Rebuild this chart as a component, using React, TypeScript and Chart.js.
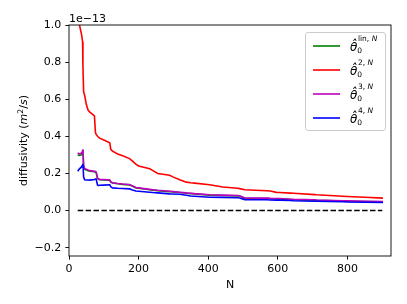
import React, { useEffect, useRef } from "react";
import { Chart, registerables } from "chart.js";

Chart.register(...registerables);

// Sample sizes N (shared by all series)
const N_VALUES = [25, 30, 36, 39, 40, 42, 45, 50, 55, 60, 73, 76, 78, 82, 85, 88, 100, 117, 120, 125, 140, 154, 174, 180, 192, 200, 232, 241, 255, 289, 300, 318, 337, 350, 361, 404, 442, 485, 490, 505, 568, 578, 596, 606, 636, 645, 706, 711, 787, 800, 850, 902];

// values in units of 1e-13 m^2/s
const LIN_VALUES = [0.300, 0.297, 0.300, 0.310, 0.325, 0.232, 0.222, 0.219, 0.215, 0.212, 0.209, 0.207, 0.205, 0.173, 0.168, 0.166, 0.165, 0.163, 0.153, 0.148, 0.144, 0.141, 0.138, 0.133, 0.122, 0.120, 0.112, 0.110, 0.107, 0.102, 0.100, 0.097, 0.093, 0.091, 0.089, 0.083, 0.081, 0.079, 0.078, 0.066, 0.065, 0.064, 0.063, 0.063, 0.059, 0.058, 0.056, 0.055, 0.051, 0.050, 0.048, 0.047];
const Q2_VALUES = [1.150, 1.000, 0.950, 0.910, 0.780, 0.640, 0.620, 0.570, 0.540, 0.530, 0.510, 0.420, 0.410, 0.400, 0.395, 0.390, 0.380, 0.365, 0.330, 0.320, 0.305, 0.295, 0.280, 0.270, 0.250, 0.240, 0.225, 0.215, 0.200, 0.190, 0.180, 0.166, 0.153, 0.150, 0.148, 0.139, 0.127, 0.120, 0.118, 0.112, 0.107, 0.105, 0.098, 0.097, 0.094, 0.093, 0.086, 0.085, 0.077, 0.076, 0.072, 0.067];
const Q3_VALUES = [0.310, 0.305, 0.310, 0.320, 0.330, 0.240, 0.227, 0.222, 0.218, 0.215, 0.212, 0.210, 0.208, 0.175, 0.170, 0.168, 0.167, 0.165, 0.155, 0.150, 0.146, 0.143, 0.140, 0.135, 0.124, 0.122, 0.114, 0.112, 0.109, 0.104, 0.102, 0.099, 0.095, 0.093, 0.091, 0.085, 0.083, 0.081, 0.080, 0.068, 0.067, 0.066, 0.065, 0.065, 0.061, 0.060, 0.058, 0.057, 0.053, 0.052, 0.050, 0.049];
const Q4_VALUES = [0.212, 0.225, 0.235, 0.245, 0.252, 0.180, 0.166, 0.165, 0.165, 0.164, 0.167, 0.170, 0.170, 0.137, 0.135, 0.136, 0.137, 0.139, 0.128, 0.122, 0.120, 0.119, 0.117, 0.112, 0.105, 0.104, 0.099, 0.097, 0.095, 0.090, 0.089, 0.088, 0.082, 0.078, 0.077, 0.072, 0.071, 0.069, 0.068, 0.059, 0.058, 0.057, 0.056, 0.056, 0.054, 0.053, 0.050, 0.050, 0.047, 0.046, 0.045, 0.043];
const ZERO_N = [25, 900];
const ZERO_VALUES = [0, 0];

const X_TICKS = [0, 200, 400, 600, 800];
const Y_TICKS = [-0.2, 0.0, 0.2, 0.4, 0.6, 0.8, 1.0];

const LEGEND_SUPS = ["lin", "2", "3", "4"];
const COLORS = ["#008000", "#ff0000", "#bf00bf", "#0000ff"];

const FONT = "'DejaVu Sans', sans-serif";
const FS = 11;

function pts(xs: number[], ys: number[]) {
  return xs.map((x, i) => ({ x, y: ys[i] }));
}

function drawTheta(ctx: CanvasRenderingContext2D, x: number, y: number, sup: string) {
  ctx.fillStyle = "#000";
  ctx.textAlign = "left";
  ctx.textBaseline = "alphabetic";
  const base = y + 5;
  ctx.font = `italic 12px ${FONT}`;
  const th = "\u03b8\u0302";
  ctx.fillText(th, x, base);
  const w = ctx.measureText("\u03b8").width;
  ctx.font = `7.5px ${FONT}`;
  ctx.fillText("0", x + w - 0.2, base + 1.5);
  let sx = x + w + 0.6;
  const sy = base - 10;
  const s1 = sup + ", ";
  ctx.fillText(s1, sx, sy);
  sx += ctx.measureText(s1).width;
  ctx.font = `italic 7.5px ${FONT}`;
  ctx.fillText("N", sx, sy);
}

const decorPlugin = {
  id: "decor",
  afterDraw(chart: any) {
    const ctx: CanvasRenderingContext2D = chart.ctx;
    const a = chart.chartArea;
    ctx.save();
    // frame
    ctx.strokeStyle = "#000";
    ctx.lineWidth = 0.9;
    ctx.strokeRect(a.left, a.top, a.right - a.left, a.bottom - a.top);

    // offset text
    ctx.fillStyle = "#000";
    ctx.font = `${FS}px ${FONT}`;
    ctx.textAlign = "left";
    ctx.textBaseline = "alphabetic";
    ctx.fillText("1e\u221213", a.left, a.top - 3);

    // x title
    ctx.textAlign = "center";
    ctx.textBaseline = "alphabetic";
    ctx.fillText("N", (a.left + a.right) / 2, 288);

    // y title
    ctx.save();
    ctx.translate(27, (a.top + a.bottom) / 2);
    ctx.rotate(-Math.PI / 2);
    const parts: [string, string, number][] = [
      ["diffusivity (", `${FS}px ${FONT}`, 0],
      ["m", `italic ${FS}px ${FONT}`, 0],
      ["2", `${FS * 0.7}px ${FONT}`, -4.5],
      ["/", `${FS}px ${FONT}`, 0],
      ["s", `italic ${FS}px ${FONT}`, 0],
      [")", `${FS}px ${FONT}`, 0],
    ];
    let total = 0;
    for (const [t, f] of parts) {
      ctx.font = f;
      total += ctx.measureText(t).width;
    }
    let px = -total / 2;
    ctx.textAlign = "left";
    for (const [t, f, dy] of parts) {
      ctx.font = f;
      ctx.fillText(t, px, dy);
      px += ctx.measureText(t).width;
    }
    ctx.restore();

    // legend
    const lx = 305, ly = 32, lw = 80, lh = 98;
    ctx.beginPath();
    if ((ctx as any).roundRect) (ctx as any).roundRect(lx + 0.5, ly + 0.5, lw, lh, 2.5);
    else ctx.rect(lx + 0.5, ly + 0.5, lw, lh);
    ctx.fillStyle = "rgba(255,255,255,0.8)";
    ctx.fill();
    ctx.strokeStyle = "#cccccc";
    ctx.lineWidth = 1;
    ctx.stroke();
    for (let i = 0; i < LEGEND_SUPS.length; i++) {
      const yy = 46 + i * 24;
      ctx.strokeStyle = COLORS[i];
      ctx.lineWidth = 1.6;
      ctx.beginPath();
      ctx.moveTo(313, yy);
      ctx.lineTo(340, yy);
      ctx.stroke();
      drawTheta(ctx, 350, yy, LEGEND_SUPS[i]);
    }
    ctx.restore();
  },
};

export default function App() {
  const ref = useRef<HTMLCanvasElement | null>(null);
  useEffect(() => {
    if (!ref.current) return;
    const lineDs = (label: string, ys: number[], color: string, order: number) => ({
      label,
      data: pts(N_VALUES, ys),
      borderColor: color,
      backgroundColor: color,
      borderWidth: 1.6,
      pointRadius: 0,
      tension: 0,
      fill: false,
      order,
    });
    const tickFont = { family: FONT, size: FS };
    const chart = new Chart(ref.current, {
      type: "line",
      data: {
        datasets: [
          lineDs("lin", LIN_VALUES, COLORS[0], 5),
          lineDs("2", Q2_VALUES, COLORS[1], 4),
          lineDs("3", Q3_VALUES, COLORS[2], 3),
          lineDs("4", Q4_VALUES, COLORS[3], 2),
          {
            label: "zero",
            data: pts(ZERO_N, ZERO_VALUES),
            borderColor: "#000",
            borderWidth: 1.6,
            borderDash: [5.5, 2.4],
            pointRadius: 0,
            fill: false,
            order: 1,
          } as any,
        ],
      },
      options: {
        animation: false,
        responsive: true,
        maintainAspectRatio: false,
        layout: { padding: { left: 0, right: 16, top: 25, bottom: 0 } },
        plugins: { legend: { display: false }, tooltip: { enabled: false } },
        scales: {
          x: {
            type: "linear",
            min: 0,
            max: 925,
            afterBuildTicks: (s: any) => {
              s.ticks = X_TICKS.map((v) => ({ value: v }));
            },
            afterFit: (s: any) => {
              s.height = 48;
            },
            grid: { display: true, drawOnChartArea: false, drawTicks: true, tickLength: 3.7, color: "#000", lineWidth: 0.9 },
            border: { display: false },
            ticks: { font: tickFont, color: "#000", padding: 3, maxRotation: 0, autoSkip: false, callback: (v: any) => String(v) },
          },
          y: {
            type: "linear",
            min: -0.245,
            max: 1.0,
            afterBuildTicks: (s: any) => {
              s.ticks = Y_TICKS.map((v) => ({ value: v }));
            },
            afterFit: (s: any) => {
              s.width = 69;
            },
            grid: { display: true, drawOnChartArea: false, drawTicks: true, tickLength: 3.7, color: "#000", lineWidth: 0.9 },
            border: { display: false },
            ticks: {
              font: tickFont,
              color: "#000",
              padding: 4,
              autoSkip: false,
              callback: (v: any) => (v < -1e-9 ? "\u2212" : "") + Math.abs(Number(v)).toFixed(1),
            },
          },
        },
      },
      plugins: [decorPlugin],
    } as any);
    return () => chart.destroy();
  }, []);
  return (
    <div style={{ position: "absolute", left: 0, top: 0, width: 407, height: 304, background: "#fff" }}>
      <canvas ref={ref} />
    </div>
  );
}
